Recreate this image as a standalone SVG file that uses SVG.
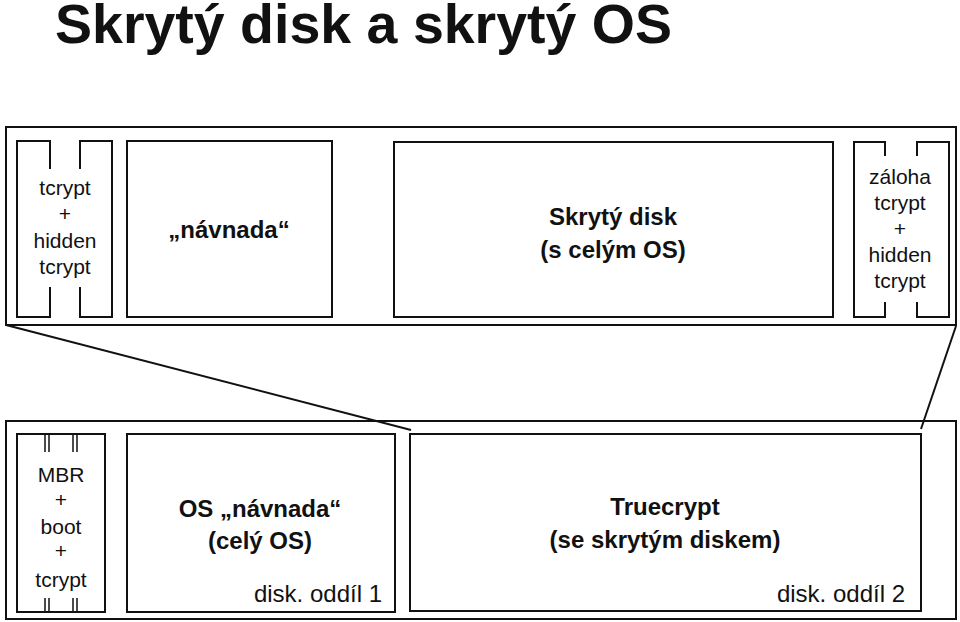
<svg xmlns="http://www.w3.org/2000/svg" width="960" height="622" viewBox="0 0 960 622">
<style>
.box{fill:none;stroke:#111;stroke-width:2}
.ln{fill:none;stroke:#111;stroke-width:2}
.thin{fill:none;stroke:#111;stroke-width:1.5}
.r{font-family:"Liberation Sans",Arial,sans-serif;font-size:21px;fill:#111;text-anchor:middle}
.b{font-family:"Liberation Sans",Arial,sans-serif;font-size:24px;font-weight:bold;fill:#111;text-anchor:middle}
.lab{font-family:"Liberation Sans",Arial,sans-serif;font-size:24px;fill:#111;text-anchor:end}
</style>
<rect width="960" height="622" fill="#fff"/>
<text x="55" y="43" font-family="'Liberation Sans',Arial,sans-serif" font-size="55.5" font-weight="bold" fill="#111">Skrytý disk a skrytý OS</text>

<g id="top-disk">
<rect class="box" x="6" y="127" width="950" height="198"/>
</g>
<g id="top-tcrypt">
<path class="ln" d="M50 169V141H17V317H50V287M80 169V141H112V317H80V287"/>
<text class="r" x="65" y="195">tcrypt</text>
<text class="r" x="65" y="221">+</text>
<text class="r" x="65" y="248">hidden</text>
<text class="r" x="65" y="274">tcrypt</text>
</g>
<g id="top-navnada">
<rect class="box" x="127" y="141" width="205" height="176"/>
<text class="b" x="229" y="238">„návnada“</text>
</g>
<g id="top-skryty">
<rect class="box" x="394" y="142" width="439" height="175"/>
<text class="b" x="613" y="225">Skrytý disk</text>
<text class="b" x="613" y="258">(s celým OS)</text>
</g>
<g id="top-zaloha">
<path class="ln" d="M885 156V142H854V317H885V302M917 156V142H949V317H917V302"/>
<text class="r" x="900" y="184">záloha</text>
<text class="r" x="900" y="210">tcrypt</text>
<text class="r" x="900" y="236">+</text>
<text class="r" x="900" y="262">hidden</text>
<text class="r" x="900" y="288">tcrypt</text>
</g>

<g id="bottom-disk">
<rect class="box" x="6" y="421" width="950" height="198"/>
</g>
<g id="bottom-mbr">
<rect class="box" x="17" y="434" width="88" height="178"/>
<path class="thin" d="M45 434V452M49 434V452M73 434V452M77 434V452M45 598V612M49 598V612M73 598V612M77 598V612"/>
<text class="r" x="61" y="482">MBR</text>
<text class="r" x="61" y="507">+</text>
<text class="r" x="61" y="534">boot</text>
<text class="r" x="61" y="558">+</text>
<text class="r" x="61" y="587">tcrypt</text>
</g>
<g id="bottom-os">
<rect class="box" x="127" y="434" width="268" height="178"/>
<text class="b" x="260" y="517">OS „návnada“</text>
<text class="b" x="260" y="549">(celý OS)</text>
<text class="lab" x="382" y="602">disk. oddíl 1</text>
</g>
<g id="bottom-truecrypt">
<rect class="box" x="410" y="434" width="511" height="177"/>
<text class="b" x="665" y="515">Truecrypt</text>
<text class="b" x="665" y="548">(se skrytým diskem)</text>
<text class="lab" x="905" y="602">disk. oddíl 2</text>
</g>

<g id="connectors">
<path class="ln" d="M6 325L411 430"/>
<path class="ln" d="M956 326L921 429"/>
</g>
</svg>
